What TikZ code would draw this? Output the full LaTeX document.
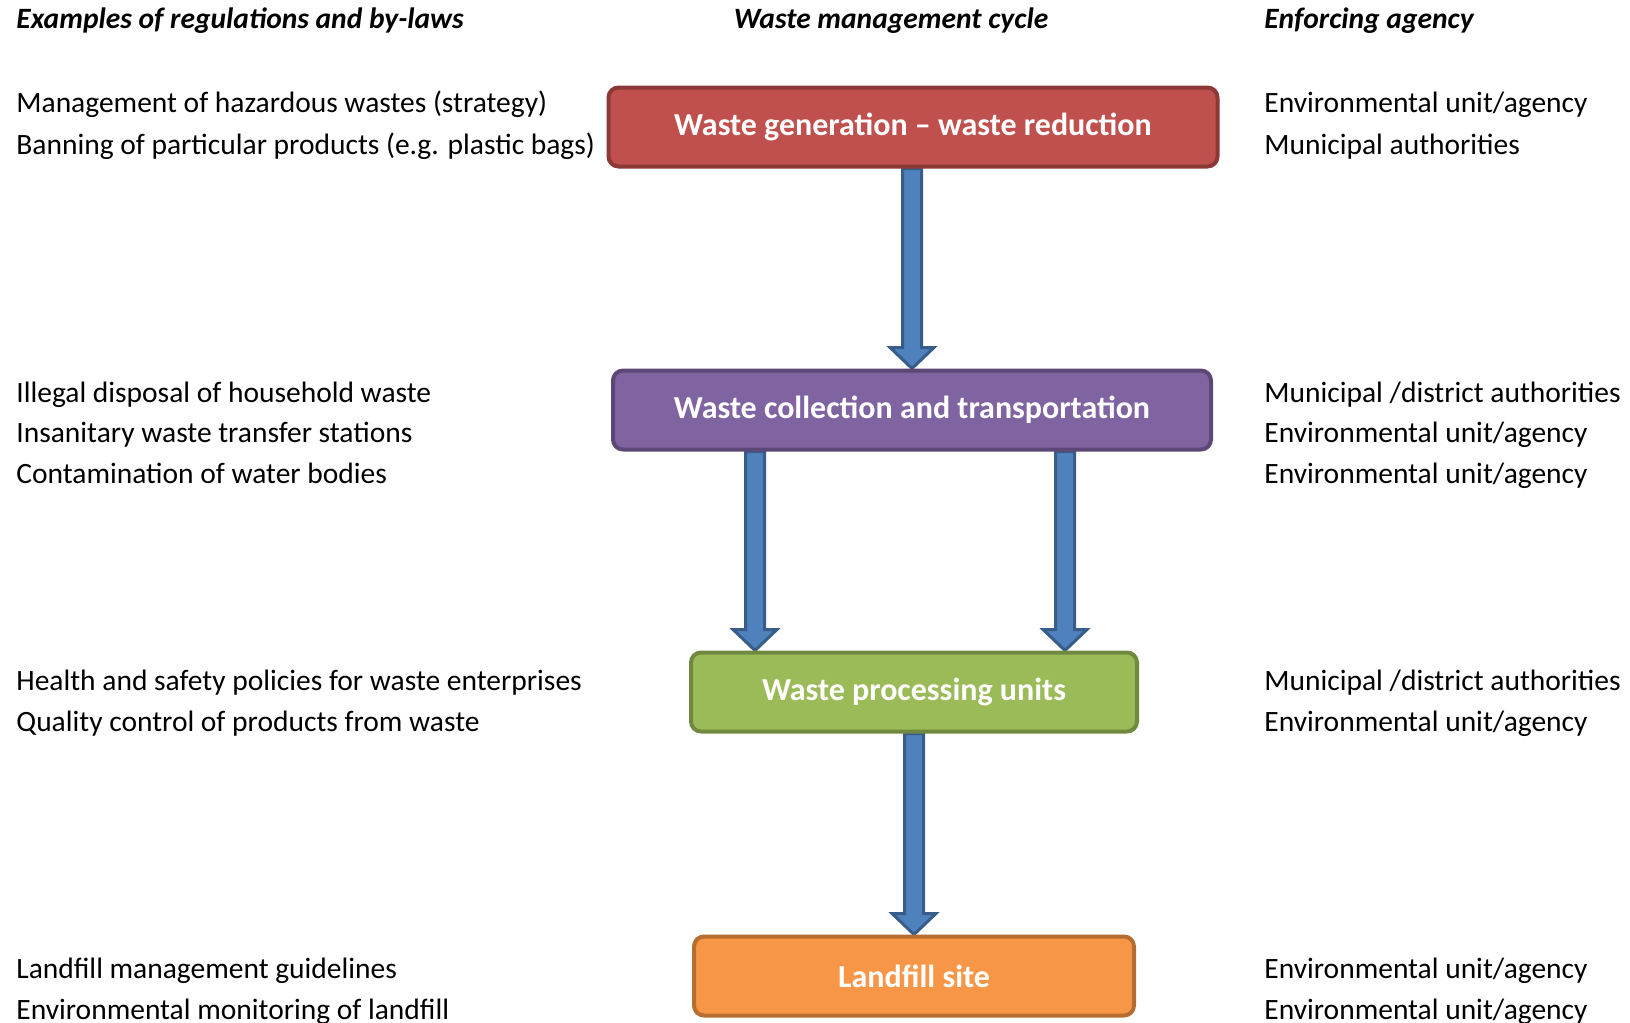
\documentclass[tikz,border=0pt]{standalone}
\usepackage{fontspec}
\setmainfont{Carlito}
\usepackage{tikz}
\usetikzlibrary{calc,backgrounds}
\definecolor{genfill}{HTML}{C0504D}
\definecolor{gendraw}{HTML}{8C3836}
\definecolor{collfill}{HTML}{8064A2}
\definecolor{colldraw}{HTML}{5C4776}
\definecolor{procfill}{HTML}{9BBB59}
\definecolor{procdraw}{HTML}{71893F}
\definecolor{landfill}{HTML}{F79646}
\definecolor{landdraw}{HTML}{B66D31}
\definecolor{arrfill}{HTML}{4F81BD}
\definecolor{arrdraw}{HTML}{385D8A}

\begin{document}
\begin{tikzpicture}[x=0.5pt,y=-0.5pt,
  cycbox/.style={rectangle,draw,line width=2pt,rounded corners=5pt,minimum height=39.5pt,
                 text=white,font=\fontsize{16}{19}\selectfont\bfseries},
  info/.style={anchor=base west,inner sep=0pt,font=\fontsize{14.75}{18}\selectfont},
  head/.style={inner sep=0pt,font=\fontsize{14.75}{18}\selectfont\bfseries\itshape},
  fat/.style={fill=arrfill,draw=arrdraw,line width=1.5pt,line join=miter,
    to path={let \p1=(\tikztostart), \p2=(\tikztotarget) in
      (\x1-4.75pt,\y1) -- (\x1-4.75pt,\y2+10.5pt) -- (\x1-11pt,\y2+10.5pt) -- (\x1,\y2)
      -- (\x1+11pt,\y2+10.5pt) -- (\x1+4.75pt,\y2+10.5pt) -- (\x1+4.75pt,\y1) -- cycle}}]
\useasboundingbox (0,0) rectangle (1630,1023);

% column headings
\node[head,anchor=base west] (hleft) at (16,28) {Examples of regulations and by-laws};
\node[head,anchor=base] (hmid) at (891,28) {Waste management cycle};
\node[head,anchor=base west] (hright) at (1264,28) {Enforcing agency};

% cycle
\node[cycbox,fill=genfill,draw=gendraw,minimum width=304.5pt] (gen) at (913,127) {Waste generation -- waste reduction};
\node[cycbox,fill=collfill,draw=colldraw,minimum width=299pt] (coll) at (912,410) {Waste collection and transportation};
\node[cycbox,fill=procfill,draw=procdraw,minimum width=223pt] (proc) at (914,692) {Waste processing units};
\node[cycbox,fill=landfill,draw=landdraw,minimum width=220pt] (land) at (914,976) {Landfill site};

\begin{scope}[on background layer]
\draw[fat] ([xshift=-0.5pt]gen.south) to (coll.north);
\draw[fat] ([xshift=-78.5pt]coll.south) to (proc.north);
\draw[fat] ([xshift=76.5pt]coll.south) to (proc.north);
\draw[fat] (proc.south) to (land.north);
\end{scope}

% regulations
\node[info] (l1) at (16,112) {Management of hazardous wastes (strategy)};
\node[info] (l2) at (16,154) {Banning of particular products (e.g. plastic bags)};
\node[info] (l3) at (16,402) {Illegal disposal of household waste};
\node[info] (l4) at (16,442) {Insanitary waste transfer stations};
\node[info] (l5) at (16,483) {Contamination of water bodies};
\node[info] (l6) at (16,690) {Health and safety policies for waste enterprises};
\node[info] (l7) at (16,731) {Quality control of products from waste};
\node[info] (l8) at (16,978) {Landfill management guidelines};
\node[info] (l9) at (16,1019) {Environmental monitoring of landfill};

% agencies
\node[info] (r1) at (1264,112) {Environmental unit/agency};
\node[info] (r2) at (1264,154) {Municipal authorities};
\node[info] (r3) at (1264,402) {Municipal /district authorities};
\node[info] (r4) at (1264,442) {Environmental unit/agency};
\node[info] (r5) at (1264,483) {Environmental unit/agency};
\node[info] (r6) at (1264,690) {Municipal /district authorities};
\node[info] (r7) at (1264,731) {Environmental unit/agency};
\node[info] (r8) at (1264,978) {Environmental unit/agency};
\node[info] (r9) at (1264,1019) {Environmental unit/agency};
\end{tikzpicture}
\end{document}
